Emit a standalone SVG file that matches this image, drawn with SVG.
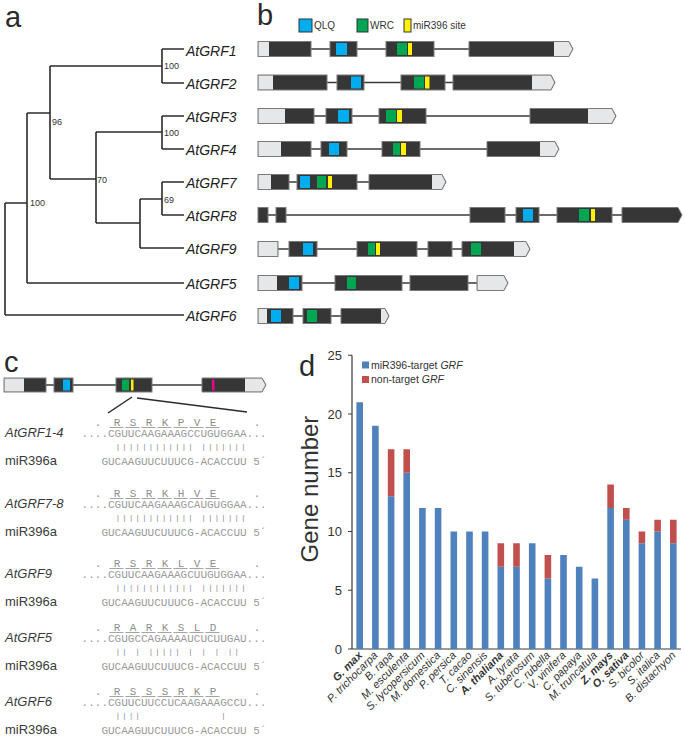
<svg xmlns="http://www.w3.org/2000/svg" width="685" height="738" viewBox="0 0 685 738">
<style>
text{font-family:"Liberation Sans",Arial,sans-serif}
.pl{font-size:29px;fill:#2a2a2a}
.leaf{font-size:14px;font-style:italic;fill:#222}
.bs{font-size:9px;fill:#333}
.tree{fill:none;stroke:#2b2b2b;stroke-width:1.6}
.intron{stroke:#3a3a3a;stroke-width:1.3}
.e{fill:#363636;stroke:#7a7a7a;stroke-width:1}
.utr{fill:#e6e7e8}
.qlq{fill:#00aeef}
.wrc{fill:#00a651}
.mir{fill:#fff200}
.mag{fill:#ec008c}
.lg{font-size:10px;fill:#333}
.gl{font-size:13px;font-style:italic;fill:#3a3a3a}
.ml{font-size:13px;fill:#3a3a3a}
.seq{font-family:"Liberation Mono","Courier New",monospace;font-size:11px;fill:#9a9a9a}
.pp{font-family:"Liberation Mono","Courier New",monospace;font-size:8px;letter-spacing:1.8px;fill:#8a8a8a}
.aa{font-family:"Liberation Mono","Courier New",monospace;font-size:11px;fill:#8e8e8e;text-anchor:middle}
.ul{fill:none;stroke:#9a9a9a;stroke-width:0.9}
.zl{stroke:#2b2b2b;stroke-width:1.5}
.b1{fill:#4f81bd}
.b2{fill:#c0504d}
.ax{stroke:#3a3a3a;stroke-width:1.2;fill:none}
.tk{font-size:13px;fill:#333;text-anchor:end}
.xl{font-size:11px;font-style:italic;fill:#333;text-anchor:end}
.xb{font-weight:bold}
.dl{font-size:10.5px;fill:#333}
</style>

<!-- Panel labels -->
<text class="pl" x="5" y="27">a</text>
<text class="pl" x="257" y="25">b</text>
<text class="pl" x="4" y="372">c</text>
<text class="pl" x="299" y="376">d</text>

<!-- Panel a: tree -->
<g id="tree-connectors">
<path class="tree" d="M162,49H184M162,83H184M162,49V83M50,66H162M50,66V179M50,179H96M96,132V223M96,132H162M162,116V149M162,116H184M162,149H184M96,223H140M140,199V248M140,199H162M162,182V215M162,182H184M162,215H184M140,248H184M27,113H50M27,113V283M27,283H184M5,203H27M5,203V315M5,315H184"/>
<text class="bs" x="164" y="69">100</text>
<text class="bs" x="52" y="124.5">96</text>
<text class="bs" x="164" y="136">100</text>
<text class="bs" x="97" y="182.5">70</text>
<text class="bs" x="164" y="203">69</text>
<text class="bs" x="30" y="206">100</text>
</g>
<g id="leaf-AtGRF1"><text class="leaf" x="186" y="55.5">AtGRF1</text></g>
<g id="leaf-AtGRF2"><text class="leaf" x="186" y="89">AtGRF2</text></g>
<g id="leaf-AtGRF3"><text class="leaf" x="186" y="122">AtGRF3</text></g>
<g id="leaf-AtGRF4"><text class="leaf" x="186" y="155">AtGRF4</text></g>
<g id="leaf-AtGRF7"><text class="leaf" x="186" y="188">AtGRF7</text></g>
<g id="leaf-AtGRF8"><text class="leaf" x="186" y="221">AtGRF8</text></g>
<g id="leaf-AtGRF9"><text class="leaf" x="186" y="254">AtGRF9</text></g>
<g id="leaf-AtGRF5"><text class="leaf" x="186" y="289">AtGRF5</text></g>
<g id="leaf-AtGRF6"><text class="leaf" x="186" y="321">AtGRF6</text></g>

<!-- Panel b legend -->
<g id="legend-b">
<rect x="299" y="19" width="13" height="13" class="qlq" stroke="#333" stroke-width="1"/>
<text class="lg" x="314" y="29">QLQ</text>
<rect x="357" y="19" width="11" height="13" class="wrc" stroke="#333" stroke-width="1"/>
<text class="lg" x="370" y="29">WRC</text>
<rect x="404" y="19" width="7" height="13" class="mir" stroke="#333" stroke-width="1"/>
<text class="lg" x="413" y="29">miR396 site</text>
</g>

<!-- Row 1 AtGRF1 -->
<g id="gene-AtGRF1">
<line class="intron" x1="258" y1="49" x2="573" y2="49"/>
<rect class="e" x="258" y="41.5" width="53" height="15"/><rect class="utr" x="258.5" y="42" width="10.5" height="14"/>
<rect class="e" x="330" y="41.5" width="27" height="15"/><rect class="qlq" x="336" y="43" width="11" height="12"/>
<rect class="e" x="386" y="41.5" width="48" height="15"/><rect class="wrc" x="397" y="43" width="10" height="12"/><rect class="mir" x="408" y="43" width="4" height="12"/>
<path class="e" d="M469,41.5H569L573,49L569,56.5H469Z"/><path class="utr" d="M554,42H568.7L572.4,49L568.7,56H554Z"/>
</g>
<!-- Row 2 AtGRF2 -->
<g id="gene-AtGRF2">
<line class="intron" x1="258" y1="82.5" x2="555" y2="82.5"/>
<rect class="e" x="258" y="75" width="69" height="15"/><rect class="utr" x="258.5" y="75.5" width="14.5" height="14"/>
<rect class="e" x="337" y="75" width="27" height="15"/><rect class="qlq" x="351" y="76.5" width="10" height="12"/>
<rect class="e" x="401" y="75" width="44" height="15"/><rect class="wrc" x="414" y="76.5" width="10" height="12"/><rect class="mir" x="425" y="76.5" width="4.5" height="12"/>
<path class="e" d="M453,75H551L555,82.5L551,90H453Z"/><path class="utr" d="M532,75.5H550.7L554.4,82.5L550.7,89.5H532Z"/>
</g>
<!-- Row 3 AtGRF3 -->
<g id="gene-AtGRF3">
<line class="intron" x1="258" y1="116" x2="616" y2="116"/>
<rect class="e" x="258" y="108.5" width="56" height="15"/><rect class="utr" x="258.5" y="109" width="26.5" height="14"/>
<rect class="e" x="326" y="108.5" width="26" height="15"/><rect class="qlq" x="338" y="110" width="11" height="12"/>
<rect class="e" x="379" y="108.5" width="47" height="15"/><rect class="wrc" x="386" y="110" width="10" height="12"/><rect class="mir" x="397" y="110" width="5" height="12"/>
<path class="e" d="M530,108.5H612L616,116L612,123.5H530Z"/><path class="utr" d="M588,109H611.7L615.4,116L611.7,123H588Z"/>
</g>
<!-- Row 4 AtGRF4 -->
<g id="gene-AtGRF4">
<line class="intron" x1="258" y1="149" x2="559" y2="149"/>
<rect class="e" x="258" y="141.5" width="53" height="15"/><rect class="utr" x="258.5" y="142" width="22.5" height="14"/>
<rect class="e" x="321" y="141.5" width="26" height="15"/><rect class="qlq" x="329" y="143" width="10" height="12"/>
<rect class="e" x="382" y="141.5" width="38" height="15"/><rect class="wrc" x="393" y="143" width="7" height="12"/><rect class="mir" x="401" y="143" width="5" height="12"/>
<path class="e" d="M487,141.5H555L559,149L555,156.5H487Z"/><path class="utr" d="M540,142H554.7L558.4,149L554.7,156H540Z"/>
</g>
<!-- Row 5 AtGRF7 -->
<g id="gene-AtGRF7">
<line class="intron" x1="258" y1="182" x2="446" y2="182"/>
<rect class="e" x="258" y="174.5" width="31" height="15"/><rect class="utr" x="258.5" y="175" width="12.5" height="14"/>
<rect class="e" x="297" y="174.5" width="60" height="15"/><rect class="qlq" x="300" y="176" width="10" height="12"/><rect class="wrc" x="317" y="176" width="9" height="12"/><rect class="mir" x="328" y="176" width="4" height="12"/>
<path class="e" d="M369,174.5H442L446,182L442,189.5H369Z"/><path class="utr" d="M432,175H441.7L445.4,182L441.7,189H432Z"/>
</g>
<!-- Row 6 AtGRF8 -->
<g id="gene-AtGRF8">
<line class="intron" x1="258" y1="215" x2="682" y2="215"/>
<rect class="e" x="258" y="207.5" width="10" height="15"/>
<rect class="e" x="276" y="207.5" width="10" height="15"/>
<rect class="e" x="470" y="207.5" width="35" height="15"/>
<rect class="e" x="516" y="207.5" width="23" height="15"/><rect class="qlq" x="523" y="209" width="10" height="12"/>
<rect class="e" x="557" y="207.5" width="55" height="15"/><rect class="wrc" x="579" y="209" width="10" height="12"/><rect class="mir" x="591" y="209" width="4" height="12"/>
<path class="e" d="M622,207.5H678L682,215L678,222.5H622Z"/>
</g>
<!-- Row 7 AtGRF9 -->
<g id="gene-AtGRF9">
<line class="intron" x1="258" y1="249" x2="530" y2="249"/>
<rect class="e" x="258" y="241.5" width="20" height="15"/><rect class="utr" x="258.5" y="242" width="19" height="14"/>
<rect class="e" x="289" y="241.5" width="28" height="15"/><rect class="qlq" x="303" y="243" width="10" height="12"/>
<rect class="e" x="357" y="241.5" width="60" height="15"/><rect class="wrc" x="368" y="243" width="7" height="12"/><rect class="mir" x="376" y="243" width="4" height="12"/>
<rect class="e" x="428" y="241.5" width="24" height="15"/>
<path class="e" d="M462,241.5H526L530,249L526,256.5H462Z"/><rect class="wrc" x="471" y="243" width="10" height="12"/><path class="utr" d="M514,242H525.7L529.4,249L525.7,256H514Z"/>
</g>
<!-- Row 8 AtGRF5 -->
<g id="gene-AtGRF5">
<line class="intron" x1="258" y1="283" x2="508" y2="283"/>
<rect class="e" x="258" y="275.5" width="44" height="15"/><rect class="utr" x="258.5" y="276" width="18.5" height="14"/><rect class="qlq" x="289" y="277" width="10" height="12"/>
<rect class="e" x="335" y="275.5" width="67" height="15"/><rect class="wrc" x="347" y="277" width="9" height="12"/>
<rect class="e" x="410" y="275.5" width="58" height="15"/>
<path class="e" d="M477,275.5H504L508,283L504,290.5H477Z"/><path class="utr" d="M477.5,276H503.7L507.4,283L503.7,290H477.5Z"/>
</g>
<!-- Row 9 AtGRF6 -->
<g id="gene-AtGRF6">
<line class="intron" x1="258" y1="316" x2="389" y2="316"/>
<rect class="e" x="258" y="308.5" width="35" height="15"/><rect class="utr" x="258.5" y="309" width="8.5" height="14"/><rect class="qlq" x="271" y="310" width="10" height="12"/>
<rect class="e" x="303" y="308.5" width="28" height="15"/><rect class="wrc" x="307" y="310" width="10" height="12"/>
<path class="e" d="M341,308.5H385L389,316L385,323.5H341Z"/><path class="utr" d="M381,309H384.7L388.4,316L384.7,323H381Z"/>
</g>

<!-- Panel c gene model -->
<g id="gene-model-c">
<line class="intron" x1="4" y1="385" x2="266" y2="385"/>
<rect class="e" x="4" y="378" width="42" height="14"/><rect class="utr" x="4.5" y="378.5" width="19.5" height="13"/>
<rect class="e" x="54" y="378" width="19" height="14"/><rect class="qlq" x="63" y="379.5" width="7" height="11"/>
<rect class="e" x="116" y="378" width="36" height="14"/><rect class="wrc" x="122" y="379.5" width="7" height="11"/><rect class="mir" x="131" y="379.5" width="2.5" height="11"/>
<path class="e" d="M202,378H262L266,385L262,392H202Z"/><rect class="mag" x="212" y="379.5" width="2.5" height="11"/><path class="utr" d="M245,378.5H261.7L265.4,385L261.7,391.5H245Z"/>
</g>
<g id="zoom-lines">
<line class="zl" x1="132" y1="397" x2="108" y2="413"/>
<line class="zl" x1="137" y1="398" x2="247" y2="412"/>
</g>

<!-- Alignments -->
<g id="align-AtGRF1-4">
<text class="gl" x="5" y="437">AtGRF1-4</text>
<text class="aa" x="98 117 133 149 165 181 197 213 257" y="425.5">.RSRKPVE.</text>
<path class="ul" d="M109.5,427.5H123.5M125.5,427.5H139.5M141.5,427.5H155.5M157.5,427.5H171.5M173.5,427.5H187.5M189.5,427.5H203.5M205.5,427.5H219.5"/>
<text class="seq" x="81.6" y="437">....CGUUCAAGAAAGCCUGUGGAA...</text>
<text class="pp" x="115.5" y="448.5" xml:space="preserve">|||||||||||| |||||||</text>
<text class="ml" x="5" y="465">miR396a</text>
<text class="seq" x="101.4" y="465">GUCAAGUUCUUUCG-ACACCUU 5´</text>
</g>
<g id="align-AtGRF7-8">
<text class="gl" x="5" y="508">AtGRF7-8</text>
<text class="aa" x="98 117 133 149 165 181 197 213 257" y="496.5">.RSRKHVE.</text>
<path class="ul" d="M109.5,498.5H123.5M125.5,498.5H139.5M141.5,498.5H155.5M157.5,498.5H171.5M173.5,498.5H187.5M189.5,498.5H203.5M205.5,498.5H219.5"/>
<text class="seq" x="81.6" y="508">....CGUUCAAGAAAGCAUGUGGAA...</text>
<text class="pp" x="115.5" y="519.5" xml:space="preserve">|||||||||||| |||||||</text>
<text class="ml" x="5" y="536">miR396a</text>
<text class="seq" x="101.4" y="536">GUCAAGUUCUUUCG-ACACCUU 5´</text>
</g>
<g id="align-AtGRF9">
<text class="gl" x="5" y="578">AtGRF9</text>
<text class="aa" x="98 117 133 149 165 181 197 213 257" y="566.5">.RSRKLVE.</text>
<path class="ul" d="M109.5,568.5H123.5M125.5,568.5H139.5M141.5,568.5H155.5M157.5,568.5H171.5M173.5,568.5H187.5M189.5,568.5H203.5M205.5,568.5H219.5"/>
<text class="seq" x="81.6" y="578">....CGUUCAAGAAAGCUUGUGGAA...</text>
<text class="pp" x="115.5" y="589.5" xml:space="preserve">|||||||||||| |||||||</text>
<text class="ml" x="5" y="606">miR396a</text>
<text class="seq" x="101.4" y="606">GUCAAGUUCUUUCG-ACACCUU 5´</text>
</g>
<g id="align-AtGRF5">
<text class="gl" x="5" y="642">AtGRF5</text>
<text class="aa" x="98 117 133 149 165 181 197 213 257" y="630.5">.RARKSLD.</text>
<path class="ul" d="M109.5,632.5H123.5M125.5,632.5H139.5M141.5,632.5H155.5M157.5,632.5H171.5M173.5,632.5H187.5M189.5,632.5H203.5M205.5,632.5H219.5"/>
<text class="seq" x="81.6" y="642">....CGUGCCAGAAAAUCUCUUGAU...</text>
<text class="pp" x="115.5" y="653.5" xml:space="preserve">|| | ||||| | | | ||</text>
<text class="ml" x="5" y="670">miR396a</text>
<text class="seq" x="101.4" y="670">GUCAAGUUCUUUCG-ACACCUU 5´</text>
</g>
<g id="align-AtGRF6">
<text class="gl" x="5" y="706">AtGRF6</text>
<text class="aa" x="98 117 133 149 165 181 197 213 257" y="694.5">.RSSSRKP.</text>
<path class="ul" d="M109.5,696.5H123.5M125.5,696.5H139.5M141.5,696.5H155.5M157.5,696.5H171.5M173.5,696.5H187.5M189.5,696.5H203.5M205.5,696.5H219.5"/>
<text class="seq" x="81.6" y="706">....CGUUCUUCCUCAAGAAAGCCU...</text>
<text class="pp" x="115.5" y="717.5" xml:space="preserve">||||            |</text>
<text class="ml" x="5" y="734">miR396a</text>
<text class="seq" x="101.4" y="734">GUCAAGUUCUUUCG-ACACCUU 5´</text>
</g>

<!-- Panel d chart -->
<g id="chart-d">
<text x="318" y="489" font-size="24" fill="#333" text-anchor="middle" transform="rotate(-90 318 489)">Gene number</text>
<path class="ax" d="M352,355.25V649H681M348,355.25H352M348,414H352M348,472.75H352M348,531.5H352M348,590.25H352M348,649H352"/>
<text class="tk" x="342" y="360">25</text>
<text class="tk" x="342" y="418.5">20</text>
<text class="tk" x="342" y="477.25">15</text>
<text class="tk" x="342" y="536">10</text>
<text class="tk" x="342" y="594.75">5</text>
<text class="tk" x="342" y="653.5">0</text>
<rect class="b1" x="362" y="361.5" width="7" height="7"/>
<text class="dl" x="371" y="368.5">miR396-target <tspan font-style="italic">GRF</tspan></text>
<rect class="b2" x="362" y="376" width="7" height="7"/>
<text class="dl" x="371" y="383">non-target <tspan font-style="italic">GRF</tspan></text>
<g id="bars">
<rect class="b1" x="356.4" y="402.25" width="6.6" height="246.75"/>
<rect class="b1" x="372.1" y="425.75" width="6.6" height="223.25"/>
<rect class="b1" x="387.8" y="496.25" width="6.6" height="152.75"/><rect class="b2" x="387.8" y="449.25" width="6.6" height="47"/>
<rect class="b1" x="403.4" y="472.75" width="6.6" height="176.25"/><rect class="b2" x="403.4" y="449.25" width="6.6" height="23.5"/>
<rect class="b1" x="419.1" y="508" width="6.6" height="141"/>
<rect class="b1" x="434.8" y="508" width="6.6" height="141"/>
<rect class="b1" x="450.5" y="531.5" width="6.6" height="117.5"/>
<rect class="b1" x="466.2" y="531.5" width="6.6" height="117.5"/>
<rect class="b1" x="481.8" y="531.5" width="6.6" height="117.5"/>
<rect class="b1" x="497.5" y="566.75" width="6.6" height="82.25"/><rect class="b2" x="497.5" y="543.25" width="6.6" height="23.5"/>
<rect class="b1" x="513.2" y="566.75" width="6.6" height="82.25"/><rect class="b2" x="513.2" y="543.25" width="6.6" height="23.5"/>
<rect class="b1" x="528.9" y="543.25" width="6.6" height="105.75"/>
<rect class="b1" x="544.6" y="578.5" width="6.6" height="70.5"/><rect class="b2" x="544.6" y="555" width="6.6" height="23.5"/>
<rect class="b1" x="560.2" y="555" width="6.6" height="94"/>
<rect class="b1" x="575.9" y="566.75" width="6.6" height="82.25"/>
<rect class="b1" x="591.6" y="578.5" width="6.6" height="70.5"/>
<rect class="b1" x="607.3" y="508" width="6.6" height="141"/><rect class="b2" x="607.3" y="484.5" width="6.6" height="23.5"/>
<rect class="b1" x="623" y="519.75" width="6.6" height="129.25"/><rect class="b2" x="623" y="508" width="6.6" height="11.75"/>
<rect class="b1" x="638.6" y="543.25" width="6.6" height="105.75"/><rect class="b2" x="638.6" y="531.5" width="6.6" height="11.75"/>
<rect class="b1" x="654.3" y="531.5" width="6.6" height="117.5"/><rect class="b2" x="654.3" y="519.75" width="6.6" height="11.75"/>
<rect class="b1" x="670" y="543.25" width="6.6" height="105.75"/><rect class="b2" x="670" y="519.75" width="6.6" height="23.5"/>
</g>
<g id="x-labels">
<text class="xl xb" transform="translate(363,656) rotate(-45)">G. max</text>
<text class="xl" transform="translate(378.4,656) rotate(-45)">P. trichocarpa</text>
<text class="xl" transform="translate(394.1,656) rotate(-45)">B. rapa</text>
<text class="xl" transform="translate(409.7,656) rotate(-45)">M. esculenta</text>
<text class="xl" transform="translate(425.4,656) rotate(-45)">S. lycopersicum</text>
<text class="xl" transform="translate(441.1,656) rotate(-45)">M. domestica</text>
<text class="xl" transform="translate(456.8,656) rotate(-45)">P. persica</text>
<text class="xl" transform="translate(472.5,656) rotate(-45)">T. cacao</text>
<text class="xl" transform="translate(488.1,656) rotate(-45)">C. sinensis</text>
<text class="xl xb" transform="translate(503.8,656) rotate(-45)">A. thaliana</text>
<text class="xl" transform="translate(519.5,656) rotate(-45)">A. lyrata</text>
<text class="xl" transform="translate(535.2,656) rotate(-45)">S. tuberosum</text>
<text class="xl" transform="translate(550.9,656) rotate(-45)">C. rubella</text>
<text class="xl" transform="translate(566.5,656) rotate(-45)">V. vinifera</text>
<text class="xl" transform="translate(582.2,656) rotate(-45)">C. papaya</text>
<text class="xl" transform="translate(597.9,656) rotate(-45)">M. truncatula</text>
<text class="xl xb" transform="translate(613.6,656) rotate(-45)">Z. mays</text>
<text class="xl xb" transform="translate(629.3,656) rotate(-45)">O. sativa</text>
<text class="xl" transform="translate(644.9,656) rotate(-45)">S. bicolor</text>
<text class="xl" transform="translate(660.6,656) rotate(-45)">S. italica</text>
<text class="xl" transform="translate(676.3,656) rotate(-45)">B. distachyon</text>
</g>
</g>
</svg>
